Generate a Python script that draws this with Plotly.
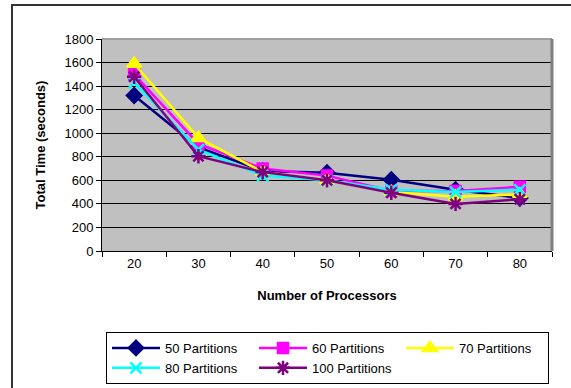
import plotly.graph_objects as go

processors = ["20", "30", "40", "50", "60", "70", "80"]
p50 = [1320, 880, 680, 665, 605, 520, 450]
p60 = [1500, 910, 700, 640, 510, 510, 545]
p70 = [1590, 960, 670, 600, 500, 460, 480]
p80 = [1430, 860, 640, 600, 520, 500, 520]
p100 = [1480, 805, 670, 600, 495, 400, 440]
series_names = ["50 Partitions", "60 Partitions", "70 Partitions", "80 Partitions", "100 Partitions"]
y_ticks = [0, 200, 400, 600, 800, 1000, 1200, 1400, 1600, 1800]

colors = ["#000080", "#FF00FF", "#FFFF00", "#00FFFF", "#800080"]
symbols = ["diamond", "square", "triangle-up", "x-thin-open", "asterisk-open"]
sizes = [11, 10, 12, 11, 12]

fig = go.Figure()
for name, vals, c, s, sz in zip(series_names, [p50, p60, p70, p80, p100], colors, symbols, sizes):
    fig.add_trace(go.Scatter(
        x=processors, y=vals, name=name, mode="lines+markers",
        line=dict(color=c, width=2.5),
        marker=dict(symbol=s, size=sz, color=c, line=dict(color=c, width=2.5)),
    ))

FONT = "Liberation Sans, Arial, sans-serif"
fig.update_layout(
    width=571, height=388,
    margin=dict(l=102, r=19, t=39, b=137),
    paper_bgcolor="white",
    plot_bgcolor="#C0C0C0",
    font=dict(family=FONT, size=13, color="black"),
    showlegend=True,
    legend=dict(
        orientation="h", xref="container", yref="container",
        x=106 / 571, y=1 - 332 / 388, xanchor="left", yanchor="top",
        bordercolor="black", borderwidth=1, bgcolor="white",
        itemwidth=48,
        entrywidth=84, entrywidthmode="pixels",
        font=dict(family=FONT, size=13, color="black"),
        traceorder="normal",
    ),
    xaxis=dict(
        type="category", tickson="boundaries", ticks="outside", ticklen=5,
        tickcolor="black", showline=True, linecolor="black", linewidth=1,
        showgrid=False, tickfont=dict(size=13),
        title=dict(text="<b>Number of Processors</b>", font=dict(size=13), standoff=21),
        range=[-0.5, 6.5],
    ),
    yaxis=dict(
        range=[0, 1800], tickvals=y_ticks, ticks="outside", ticklen=5,
        tickcolor="black", showline=True, linecolor="black", linewidth=1,
        showgrid=True, gridcolor="black", gridwidth=1, zeroline=False,
        tickfont=dict(size=13),
        title=dict(text="<b>Total Time (seconds)</b>", font=dict(size=13), standoff=15),
    ),
    shapes=[
        dict(type="line", xref="paper", yref="paper", x0=0, x1=1, y0=1, y1=1,
             line=dict(color="#A0A0A0", width=2)),
        dict(type="line", xref="paper", yref="paper", x0=1, x1=1, y0=0, y1=1,
             line=dict(color="#808080", width=3)),
        dict(type="rect", xref="paper", yref="paper", x0=-0.2, x1=1.06, y0=-0.68, y1=1.1604,
             line=dict(color="#333333", width=2), fillcolor="rgba(0,0,0,0)", layer="above"),
    ],
)

fig.write_html("out.html")
